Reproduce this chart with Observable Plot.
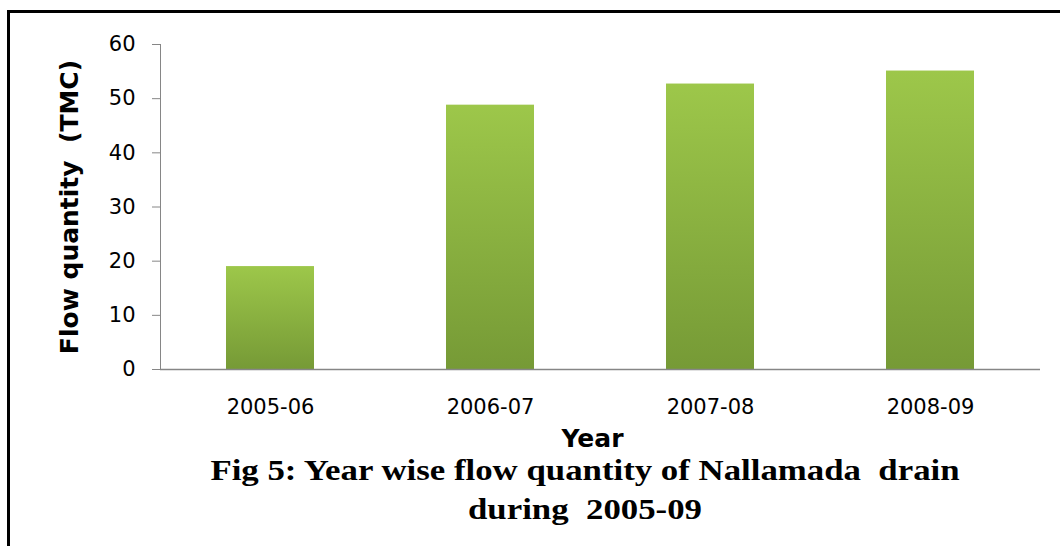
<!DOCTYPE html>
<html>
<head>
<meta charset="utf-8">
<script src="https://cdn.jsdelivr.net/npm/d3@7"></script>
<script src="https://cdn.jsdelivr.net/npm/@observablehq/plot@0.6"></script>
<style>
  html, body { margin: 0; padding: 0; background: #fff; width: 1060px; height: 546px; overflow: hidden; }
  #wrap { position: relative; width: 1060px; height: 546px; }
  #border { position: absolute; left: 7px; top: 10px; right: -10px; bottom: -10px;
            border-top: 3px solid #000; border-left: 3px solid #000; pointer-events: none; }
  #chart { position: absolute; left: 0; top: 0; }
  #caption { position: absolute; left: 0; width: 1170px; top: 451px; text-align: center;
             font-family: "Liberation Serif", serif; font-weight: bold; font-size: 29px;
             line-height: 39px; color: #000; white-space: pre;
             transform: scaleX(1.2); transform-origin: 585px 0; }
</style>
</head>
<body>
<div id="wrap">
  <div id="chart"></div>
  <div id="border"></div>
  <div id="caption">Fig 5: Year wise flow quantity of Nallamada  drain
during  2005-09</div>
</div>
<script>
// Year-wise flow quantity (TMC)
const years = ["2005-06", "2006-07", "2007-08", "2008-09"];
const flow = [19.0, 48.8, 52.7, 55.1];
const yTicks = [0, 10, 20, 30, 40, 50, 60];
const yLabel = "Flow quantity  (TMC)";
const xLabel = "Year";

const rows = years.map((year, i) => ({year, flow: flow[i]}));

const chart = Plot.plot({
  width: 1060,
  height: 458,
  marginLeft: 160,
  marginRight: 20,
  marginTop: 44,
  marginBottom: 89,
  style: {fontFamily: "DejaVu Sans, sans-serif", fontSize: "21px", color: "#000", background: "transparent"},
  x: {domain: years, paddingInner: 0.6, paddingOuter: 0.3, label: null},
  y: {domain: [0, 60], label: null},
  marks: [
    Plot.barY(rows, {x: "year", y: "flow", fill: "url(#barGradient)", style: "filter: drop-shadow(0 0 2px rgba(0,0,0,0.25))"}),
    Plot.frame({anchor: "left", stroke: "#868686"}),
    Plot.ruleY([0], {stroke: "#868686", strokeWidth: 1.5}),
    Plot.axisY({ticks: yTicks, tickSize: 8, tickPadding: 17, stroke: "#868686", label: null}),
    Plot.axisX({tickSize: 0, tickPadding: 30, label: null}),
    Plot.text([yLabel], {text: d => d, frameAnchor: "left", textAnchor: "middle", dx: -91, rotate: -90,
      fontWeight: "bold", fontSize: 25, fill: "#000"}),
    Plot.text([xLabel], {text: d => d, frameAnchor: "bottom", textAnchor: "middle", dy: 77, dx: -8,
      fontWeight: "bold", fontSize: 25, fill: "#000"})
  ]
});

// vertical green gradient used by the bars
d3.select(chart).insert("defs", ":first-child").html(
  `<linearGradient id="barGradient" x1="0" y1="0" x2="0" y2="1">
     <stop offset="0" stop-color="#9dc74a"/>
     <stop offset="1" stop-color="#769a36"/>
   </linearGradient>`);

document.getElementById("chart").appendChild(chart);
</script>
</body>
</html>
